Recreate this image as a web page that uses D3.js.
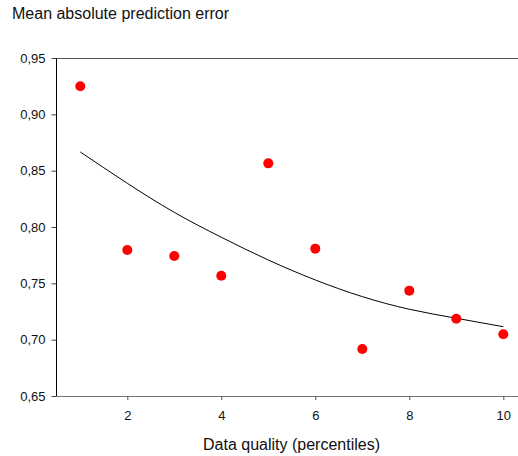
<!DOCTYPE html>
<html>
<head>
<meta charset="utf-8">
<script src="https://cdn.jsdelivr.net/npm/d3@7"></script>
<style>
html,body{margin:0;padding:0;background:#fff;}
svg{display:block;font-family:"Liberation Sans",Arial,sans-serif;}
</style>
</head>
<body>
<svg id="chart" width="518" height="456"></svg>
<script>
const quality = [1,2,3,4,5,6,7,8,9,10];
const errorValues = [0.925,0.7796,0.7743,0.7568,0.8565,0.7808,0.6917,0.7435,0.7186,0.7048];
const fitValues = [0.8666,0.8388,0.8130,0.7909,0.7707,0.7530,0.7382,0.7270,0.7190,0.7115];
const xTicks = [2,4,6,8,10];
const yTicks = [0.65,0.70,0.75,0.80,0.85,0.90,0.95];
const titleText = "Mean absolute prediction error";
const xLabelText = "Data quality (percentiles)";

const svg = d3.select("#chart");
const x = d3.scaleLinear().domain([0.5,10.3]).range([56.8,517.4]);
const y = d3.scaleLinear().domain([0.65,0.95]).range([396,58]);

// top frame line
svg.append("line").attr("x1",56.5).attr("x2",518).attr("y1",58.5).attr("y2",58.5)
  .attr("stroke","#555").attr("stroke-width",1);

// bottom axis
const xAxis = d3.axisBottom(x).tickValues(xTicks).tickSize(4).tickPadding(11).tickFormat(d3.format("d"));
const gx = svg.append("g").attr("transform","translate(0,396)").call(xAxis);
gx.select(".domain").attr("d","M56.5,0.5H518").attr("stroke","#777");
gx.selectAll(".tick line").attr("stroke","#555");
gx.selectAll(".tick text").attr("font-size",13).attr("fill","#111").attr("font-family","Liberation Sans, Arial, sans-serif");

// left axis
const commaFmt = d => d3.format(".2f")(d).replace(".",",");
const yAxis = d3.axisLeft(y).tickValues(yTicks).tickSize(5).tickPadding(6).tickFormat(commaFmt);
const gy = svg.append("g").attr("transform","translate(56.5,0)").call(yAxis);
gy.select(".domain").attr("d","M0,58V396").attr("stroke","#000");
gy.selectAll(".tick line").attr("stroke","#444");
gy.selectAll(".tick text").attr("font-size",13).attr("fill","#111").attr("font-family","Liberation Sans, Arial, sans-serif");

// fitted curve
const line = d3.line().x((d,i)=>x(quality[i])).y(d=>y(d)).curve(d3.curveNatural);
svg.append("path").datum(fitValues).attr("d",line).attr("fill","none").attr("stroke","#000").attr("stroke-width",1);

// points
svg.selectAll("circle.pt").data(errorValues).enter().append("circle")
  .attr("class","pt").attr("cx",(d,i)=>x(quality[i])).attr("cy",d=>y(d)).attr("r",5).attr("fill","#ff0000");

// title
svg.append("text").attr("x",12).attr("y",19).attr("font-size",16).attr("fill","#111").text(titleText);
// x label
svg.append("text").attr("x",291.5).attr("y",450).attr("text-anchor","middle").attr("font-size",16).attr("fill","#111").text(xLabelText);
</script>
</body>
</html>
